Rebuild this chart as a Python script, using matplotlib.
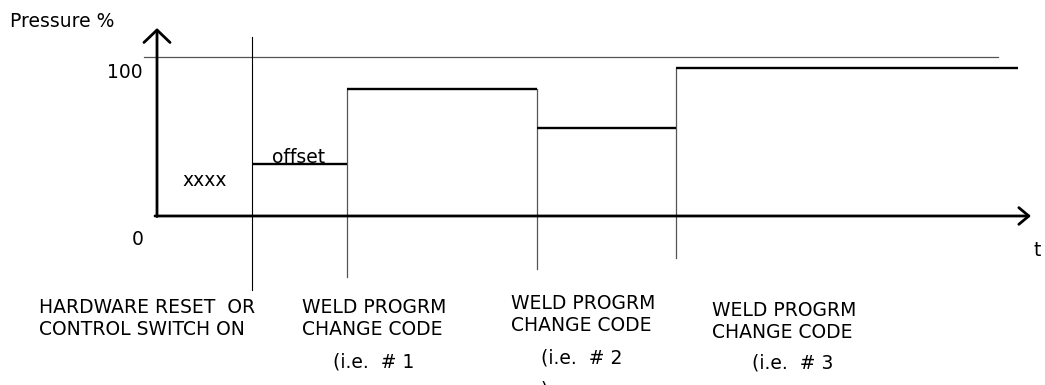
import matplotlib
matplotlib.use("Agg")
import matplotlib.pyplot as plt

# time axis (arbitrary units) and pressure levels in %
event_t = [9.5, 19.0, 38.0, 51.9]        # reset, change #1, #2, #3
end_t = 86.1
levels = [32.7, 79.9, 55.3, 93.1]         # offset, prog 1, prog 2, prog 3
line_bottom = [-46.5, -38.4, -33.3, -26.4]
reset_top = 112.6
full_scale = 100

labels = [
    ["HARDWARE RESET  OR", "CONTROL SWITCH ON"],
    ["WELD PROGRM", "CHANGE CODE"],
    ["WELD PROGRM", "CHANGE CODE"],
    ["WELD PROGRM", "CHANGE CODE"],
]
ie_labels = ["(i.e.  # 1", "(i.e.  # 2", "(i.e.  # 3"]

# pixel -> data helper (only for placing text)
X0, SX, Y0, SY = 157, 10.0, 216, 1.59
def at(x, y):
    return (x - X0) / SX, (Y0 - y) / SY

FS = 13.5
fig = plt.figure(figsize=(10.45, 3.85), dpi=100)
ax = fig.add_axes([0, 0, 1, 1])
ax.set_xlim(-15.7, 88.8)
ax.set_ylim(-106.3, 135.85)
ax.axis("off")

# axes with arrows
ax.annotate("", xy=(0, 118.2), xytext=(0, -0.3),
            arrowprops=dict(arrowstyle="->,head_length=0.45,head_width=0.47",
                            lw=2.0, color="black", mutation_scale=20,
                            shrinkA=0, shrinkB=0))
ax.annotate("", xy=(87.4, 0), xytext=(-0.2, 0),
            arrowprops=dict(arrowstyle="->,head_length=0.36,head_width=0.3",
                            lw=2.0, color="black", mutation_scale=20,
                            shrinkA=0, shrinkB=0))

# 100 % reference line
ax.plot([-1.3, 84.1], [full_scale, full_scale], color="#555555", lw=0.9)

# event marker lines
ax.plot([event_t[0], event_t[0]], [line_bottom[0], reset_top], color="black", lw=0.8)
for i in range(1, 4):
    top = max(levels[i - 1], levels[i])
    ax.plot([event_t[i], event_t[i]], [line_bottom[i], top], color="#555555", lw=0.9)

# pressure steps
stops = event_t[1:] + [end_t]
for t0, t1, lv in zip(event_t, stops, levels):
    ax.plot([t0, t1], [lv, lv], color="black", lw=1.7, solid_capstyle="butt")

# texts
ax.text(*at(10, 21), "Pressure %", fontsize=FS, ha="left", va="center")
ax.text(*at(143, 73), "100", fontsize=FS, ha="right", va="center")
ax.text(*at(144, 240), "0", fontsize=FS, ha="right", va="center")
ax.text(*at(1034, 251), "t", fontsize=FS, ha="left", va="center")
ax.text(*at(182, 181), "xxxx", fontsize=FS, ha="left", va="center")
ax.text(*at(272, 163), "offset", fontsize=FS, ha="left", va="baseline")

lab_pos = [(39, 308), (302, 308), (511, 304), (712, 311)]
for (x, y), lines in zip(lab_pos, labels):
    for k, s in enumerate(lines):
        ax.text(*at(x, y + 22 * k), s, fontsize=FS, ha="left", va="center")

ie_pos = [(333, 362), (541, 358), (752, 363)]
for (x, y), s in zip(ie_pos, ie_labels):
    ax.text(*at(x, y), s, fontsize=FS, ha="left", va="center")
ax.text(*at(541, 381), ")", fontsize=FS, ha="left", va="top")

fig.savefig("out.png", dpi=100)
